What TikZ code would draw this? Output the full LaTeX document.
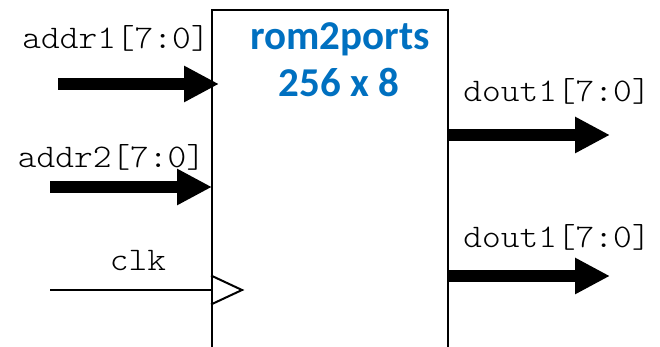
\documentclass[tikz,border=0pt]{standalone}
\usepackage{fontspec}
\newfontfamily\calibrifont{Carlito}
\usetikzlibrary{arrows.meta, positioning, calc}
\definecolor{romBlue}{HTML}{0070C0}

\begin{document}
\begin{tikzpicture}[x=1pt, y=1pt,
  bus/.style={line width=12pt, -{Triangle[length=35pt, width=34pt]}},
  wire/.style={line width=2pt},
  sig/.style={font=\fontsize{33}{33}\ttfamily\fontseries{l}\selectfont, xscale=1.08, inner sep=0pt, anchor=base},
  romtitle/.style={font=\fontsize{41}{41}\selectfont\calibrifont\bfseries, text=romBlue, inner sep=0pt, anchor=base}]
  \useasboundingbox (0,0) rectangle (660,347);
  \clip (0,0) rectangle (660,347);
  % --- rom block, runs off the bottom ---
  \node[draw, line width=2pt, minimum width=236pt, minimum height=357pt, inner sep=0pt] (rom) at (330,158.5) {};
  \node[romtitle] (name) at (340,297) {rom2ports};
  \node[romtitle] (size) at (339,250) {256 x 8};
  % --- inputs ---
  \coordinate (a1) at (58,263);
  \coordinate (a2) at (50,160);
  \coordinate (ck) at (50,57);
  \draw[bus] (a1) -- ([xshift=8pt]a1 -| rom.west);
  \draw[bus] (a2) -- ([xshift=1pt]a2 -| rom.west);
  \draw[wire] (ck) -- (ck -| rom.west);
  \draw[wire, line join=miter] ([yshift=14.5pt]ck -| rom.west) -- ([xshift=31pt]ck -| rom.west) -- ([yshift=-14.5pt]ck -| rom.west);
  \node[sig] (a1lbl) at (116,298) {addr1[7:0]};
  \node[sig] (a2lbl) at (111.5,179) {addr2[7:0]};
  \node[sig] (cklbl) at (138,76) {clk};
  % --- outputs ---
  \coordinate (d1) at (610,212);
  \coordinate (d2) at (610,71);
  \draw[bus] (d1 -| rom.east) -- (d1);
  \draw[bus] (d2 -| rom.east) -- (d2);
  \node[sig] (d1lbl) at (557,245) {dout1[7:0]};
  \node[sig] (d2lbl) at (557,99) {dout1[7:0]};
\end{tikzpicture}
\end{document}
